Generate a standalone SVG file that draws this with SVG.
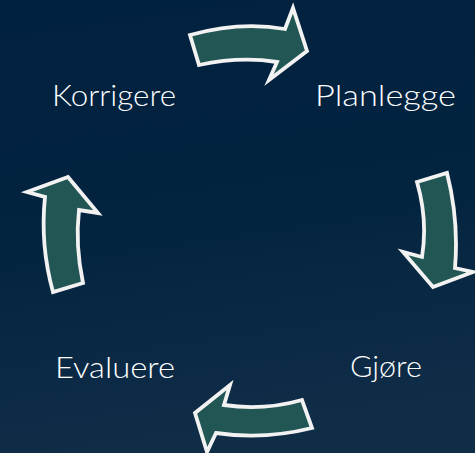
<svg xmlns="http://www.w3.org/2000/svg" width="475" height="453" viewBox="0 0 475 453">
<defs>
<linearGradient id="bg" x1="0" y1="0" x2="0.15" y2="1">
<stop offset="0" stop-color="#012140"/>
<stop offset="0.55" stop-color="#03243f"/>
<stop offset="1" stop-color="#102d48"/>
</linearGradient>
<style>
.arrow{fill:#215654;stroke:#f2f2f2;stroke-width:3.8;stroke-linejoin:miter;stroke-miterlimit:10}
.lbl{font-family:Lato,"Liberation Sans",Arial,sans-serif;font-weight:300;font-size:29px;fill:#ffffff}
</style>
</defs>
<rect width="475" height="453" fill="url(#bg)"/>
<g id="connectors">
<path id="arrow-top" class="arrow" d="M190,35 Q240,21 285,29 L293,8 L307,51 L269,80 L277,62 Q240,56 199,65 Z"/>
<path id="arrow-right" class="arrow" d="M417,182 L447,173 Q459,220 455,268 L473,272 L433,287 L403,252 L422,257 Q428,220 417,182 Z"/>
<path id="arrow-bottom" class="arrow" d="M312,428 Q264,440 216,433 L207,452 L195,413 L230,385 L224,405 Q263,411 302,400 Z"/>
<path id="arrow-left" class="arrow" d="M53,292 Q40,245 45,197 L27,192 L68,177 L98,213 L79,210 Q75,245 83,283 Z"/>
</g>
<g id="node-korrigere"><text class="lbl" x="52" y="106" textLength="124" lengthAdjust="spacingAndGlyphs">Korrigere</text></g>
<g id="node-planlegge"><text class="lbl" x="315" y="106" textLength="141" lengthAdjust="spacingAndGlyphs">Planlegge</text></g>
<g id="node-gjore"><text class="lbl" x="350" y="377" textLength="72" lengthAdjust="spacingAndGlyphs">Gjøre</text></g>
<g id="node-evaluere"><text class="lbl" x="55" y="378" textLength="120" lengthAdjust="spacingAndGlyphs">Evaluere</text></g>
</svg>
